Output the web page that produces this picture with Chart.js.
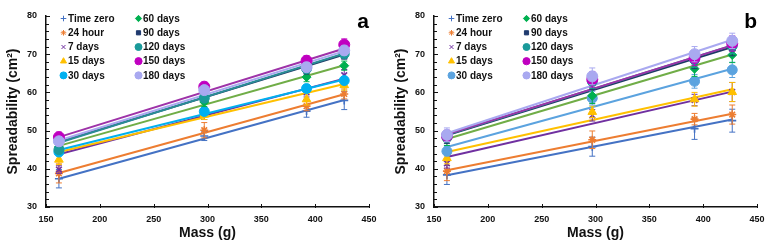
<!DOCTYPE html>
<html>
<head>
<meta charset="utf-8">
<script src="https://cdn.jsdelivr.net/npm/chart.js"></script>
<style>
  html, body { margin: 0; padding: 0; background: #fff; }
  .panel { position: absolute; top: 0; width: 388px; height: 247px; }
</style>
</head>
<body>
<div class="panel" style="left:0"><canvas id="chartA" width="388" height="247"></canvas></div>
<div class="panel" style="left:388px"><canvas id="chartB" width="388" height="247"></canvas></div>
<script>
// mass points (g), same for both panels
const mass = [162, 297, 392, 427];
const seriesNames = ['Time zero', '24 hour', '7 days', '15 days', '30 days',
                     '60 days', '90 days', '120 days', '150 days', '180 days'];

// panel a: spreadability (cm2) per series, one row per series
const valuesA = [
    [37.4, 48.6, 55.1, 57.9],
    [38.8, 50.1, 56.4, 59.6],
    [39.8, 55.4, 60.0, 64.5],
    [42.4, 54.2, 58.2, 61.9],
    [44.4, 55.0, 61.0, 63.1],
    [45.7, 57.5, 64.0, 67.0],
    [46.3, 59.3, 65.8, 69.7],
    [45.0, 58.5, 66.2, 70.1],
    [48.3, 61.5, 68.3, 72.5],
    [47.2, 60.6, 66.6, 71.0],
];
const errorsA = [
    [2.4, 1.2, 1.6, 2.4],
    [2.5, 2.0, 1.2, 1.3],
    [1.0, 2.5, 1.2, 1.5],
    [1.3, 1.3, 1.5, 1.3],
    [1.0, 1.0, 1.0, 1.0],
    [1.0, 1.2, 1.2, 1.2],
    [0.8, 1.0, 1.0, 1.0],
    [1.0, 1.0, 1.0, 1.0],
    [1.3, 1.2, 1.3, 1.5],
    [1.0, 1.0, 1.2, 1.2],
];
// trend line values at first and last mass
const trendStartA = [37.4, 38.9, 43.8, 44.4, 44.9, 46.0, 47.0, 46.8, 48.3, 47.4];
const trendEndA   = [58.0, 59.5, 63.6, 62.2, 63.4, 67.1, 69.9, 70.2, 71.5, 70.8];

// panel b
const valuesB = [
    [38.4, 45.8, 50.5, 52.6],
    [39.4, 47.6, 53.0, 54.2],
    [41.4, 54.0, 58.0, 60.1],
    [42.8, 54.9, 58.2, 60.1],
    [44.6, 58.5, 62.9, 65.9],
    [47.6, 59.1, 66.2, 69.8],
    [47.9, 62.6, 68.2, 71.6],
    [48.3, 62.9, 68.6, 72.2],
    [48.6, 63.4, 69.0, 72.8],
    [48.9, 64.2, 70.0, 73.5],
];
const errorsB = [
    [2.5, 2.5, 2.8, 3.0],
    [2.5, 2.3, 1.5, 2.5],
    [1.2, 1.5, 1.5, 2.5],
    [1.5, 1.5, 1.8, 2.5],
    [1.2, 1.8, 1.8, 2.0],
    [1.5, 2.0, 2.0, 2.0],
    [1.3, 1.8, 2.0, 2.0],
    [1.3, 1.8, 2.0, 2.0],
    [1.5, 2.0, 2.0, 2.0],
    [1.8, 2.2, 2.0, 2.0],
];
const trendStartB = [38.3, 39.6, 43.1, 44.4, 45.7, 47.8, 48.8, 48.9, 49.0, 49.3];
const trendEndB   = [52.9, 54.4, 60.2, 60.8, 66.2, 69.9, 71.9, 72.3, 72.3, 73.8];

const xTicks = { min: 150, max: 450, step: 50 };
const yTicks = { min: 30, max: 80, step: 10, minorStep: 2 };

// styles
const markerColors = ['#4472C4', '#ED7D31', '#7030A0', '#FFC000', '#00B0F0',
                      '#00B050', '#1F3A6E', '#1A9A9A', '#C000C0', '#A9A9F0'];
const lineColorsA  = ['#4472C4', '#ED7D31', '#7030A0', '#FFC000', '#00B0F0',
                      '#70AD47', '#1F3864', '#2A8C96', '#9E32A8', '#A9A9F0'];
const lineColorsB  = ['#4472C4', '#ED7D31', '#7030A0', '#FFC000', '#5BA3DF',
                      '#70AD47', '#1F3864', '#2A8C96', '#9E32A8', '#A9A9F0'];
const markerB30 = '#5BA3DF';
const pointStyles = ['cross', 'star', 'crossRot', 'triangle', 'circle',
                     'rectRot', 'rect', 'circle', 'circle', 'circle'];
const pointSizes  = [4, 4, 4, 5, 5, 4.5, 4.2, 5, 5.5, 5.5];

const FONT = "'Liberation Sans', Arial, sans-serif";
Chart.defaults.font.family = FONT;
Chart.defaults.color = '#111';

const errorBars = {
    id: 'errorBars',
    afterDatasetDraw(chart, args) {
        const ds = chart.data.datasets[args.index];
        if (!ds.errors) return;
        const { ctx, scales: { x, y } } = chart;
        ctx.save();
        ctx.strokeStyle = ds.borderColor;
        ctx.lineWidth = 1;
        ds.data.forEach((p, i) => {
            const px = x.getPixelForValue(p.x);
            const top = y.getPixelForValue(p.y + ds.errors[i]);
            const bot = y.getPixelForValue(p.y - ds.errors[i]);
            ctx.beginPath();
            ctx.moveTo(px, top); ctx.lineTo(px, bot);
            ctx.moveTo(px - 3, top); ctx.lineTo(px + 3, top);
            ctx.moveTo(px - 3, bot); ctx.lineTo(px + 3, bot);
            ctx.stroke();
        });
        ctx.restore();
    }
};

const tickMarks = {
    id: 'tickMarks',
    afterDraw(chart) {
        const { ctx, chartArea, scales: { x, y } } = chart;
        ctx.save();
        ctx.strokeStyle = '#111';
        ctx.lineWidth = 1;
        ctx.beginPath();
        for (let v = yTicks.min; v <= yTicks.max; v += yTicks.minorStep) {
            const py = Math.round(y.getPixelForValue(v)) + 0.5;
            const len = v % yTicks.step === 0 ? 4 : 3;
            ctx.moveTo(chartArea.left, py); ctx.lineTo(chartArea.left + len, py);
        }
        for (let v = xTicks.min; v <= xTicks.max; v += xTicks.step) {
            const px = Math.round(x.getPixelForValue(v)) + 0.5;
            ctx.moveTo(px, chartArea.bottom - 3); ctx.lineTo(px, chartArea.bottom + 1);
        }
        ctx.stroke();
        ctx.restore();
    }
};

const sideLegend = {
    id: 'sideLegend',
    afterDraw(chart) {
        const ctx = chart.ctx;
        const rows = [18.5, 32.8, 47, 61.2, 75.4];
        const sets = chart.data.datasets.filter(d => d.errors);
        ctx.save();
        sets.forEach((ds, i) => {
            const col = i < 5 ? 0 : 1;
            const mx = col === 0 ? 63.5 : 138.5;
            const my = rows[i % 5];
            ctx.fillStyle = ds.backgroundColor;
            ctx.strokeStyle = ds.borderColor;
            Chart.helpers.drawPoint(ctx, {
                pointStyle: ds.pointStyle,
                radius: Math.min(ds.pointRadius * 0.7, 3.6),
                rotation: 0,
                borderWidth: ds.pointBorderWidth
            }, mx, my);
            ctx.fillStyle = '#111';
            ctx.font = 'bold 10px ' + FONT;
            ctx.textBaseline = 'middle';
            ctx.textAlign = 'left';
            ctx.fillText(ds.label, mx + 4.5, my + 0.5);
        });
        ctx.font = 'bold 21px ' + FONT;
        ctx.textAlign = 'right';
        ctx.textBaseline = 'alphabetic';
        ctx.fillStyle = '#000';
        ctx.fillText(chart.options.plugins.panelTag, chart.chartArea.right, 28);
        ctx.restore();
    }
};

function buildDatasets(values, errors, tStart, tEnd, lineColors, panel) {
    const sets = [];
    values.forEach((row, i) => {
        let mc = markerColors[i];
        if (panel === 'b' && i === 4) mc = markerB30;
        const open = ['cross', 'star', 'crossRot'].includes(pointStyles[i]);
        sets.push({
            label: seriesNames[i],
            data: row.map((v, k) => ({ x: mass[k], y: v })),
            errors: errors[i],
            showLine: false,
            pointStyle: pointStyles[i],
            pointRadius: pointSizes[i],
            pointBorderWidth: open ? 1.6 : 1,
            backgroundColor: mc,
            borderColor: mc,
            order: 10 - i,
        });
    });
    values.forEach((row, i) => {
        sets.push({
            label: seriesNames[i] + ' trend',
            data: [{ x: mass[0], y: tStart[i] }, { x: mass[mass.length - 1], y: tEnd[i] }],
            showLine: true,
            borderColor: lineColors[i],
            borderWidth: 2,
            pointRadius: 0,
            order: 30 - i,
        });
    });
    return sets;
}

function makeChart(id, datasets, tag) {
    return new Chart(document.getElementById(id), {
        type: 'scatter',
        data: { datasets: datasets },
        plugins: [errorBars, tickMarks, sideLegend],
        options: {
            responsive: false,
            animation: false,
            devicePixelRatio: 1,
            layout: { padding: { top: 16, right: 19, left: 0, bottom: 0 } },
            plugins: {
                legend: { display: false },
                tooltip: { enabled: false },
                panelTag: tag,
            },
            scales: {
                x: {
                    type: 'linear',
                    min: xTicks.min, max: xTicks.max,
                    ticks: { stepSize: xTicks.step, padding: 7, font: { size: 9, weight: 'bold' }, color: '#111' },
                    grid: { display: false, drawTicks: false },
                    border: { color: '#111', width: 1.5 },
                    title: { display: true, text: 'Mass (g)', font: { size: 14, weight: 'bold' }, color: '#111', padding: { top: 2, bottom: 5 } },
                    afterFit: s => { s.height = 40; },
                },
                y: {
                    type: 'linear',
                    min: yTicks.min, max: yTicks.max,
                    ticks: { stepSize: yTicks.step, padding: 9, font: { size: 9, weight: 'bold' }, color: '#111' },
                    grid: { display: false, drawTicks: false },
                    border: { color: '#111', width: 1.5 },
                    title: { display: true, text: 'Spreadability (cm²)', font: { size: 14, weight: 'bold' }, color: '#111', padding: { top: 5, bottom: 2 } },
                    afterFit: s => { s.width = 46; },
                },
            },
        },
    });
}

makeChart('chartA', buildDatasets(valuesA, errorsA, trendStartA, trendEndA, lineColorsA, 'a'), 'a');
makeChart('chartB', buildDatasets(valuesB, errorsB, trendStartB, trendEndB, lineColorsB, 'b'), 'b');
</script>
</body>
</html>
